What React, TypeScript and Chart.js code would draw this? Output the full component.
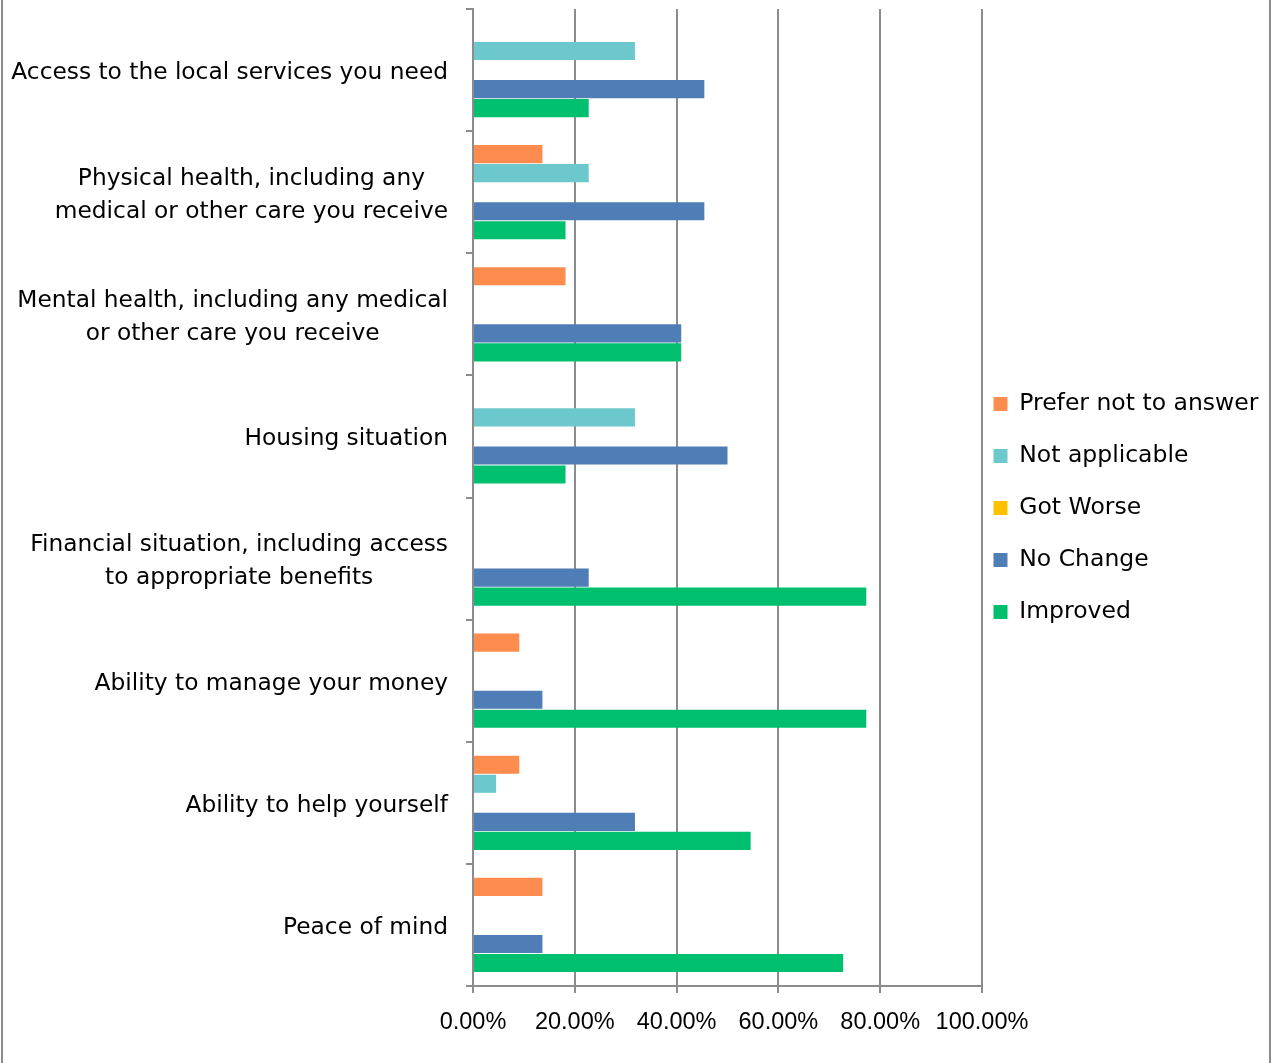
import React, { useEffect, useRef } from "react";
import { Chart, registerables } from "chart.js";

Chart.register(...registerables);

const categories: string[][] = [
  ["Access to the local services you need"],
  ["Physical health, including any", "medical or other care you receive"],
  ["Mental health, including any medical", "or other care you receive"],
  ["Housing situation"],
  ["Financial situation, including access", "to appropriate benefits"],
  ["Ability to manage your money"],
  ["Ability to help yourself"],
  ["Peace of mind"],
];

const seriesNames = ["Prefer not to answer", "Not applicable", "Got Worse", "No Change", "Improved"];
const preferNotToAnswer = [0, 13.64, 18.18, 0, 0, 9.09, 9.09, 13.64];
const notApplicable = [31.82, 22.73, 0, 31.82, 0, 0, 4.55, 0];
const gotWorse = [0, 0, 0, 0, 0, 0, 0, 0];
const noChange = [45.45, 45.45, 40.91, 50, 22.73, 13.64, 31.82, 13.64];
const improved = [22.73, 18.18, 40.91, 18.18, 77.27, 77.27, 54.55, 72.73];
const seriesColors = ["#FF8C4F", "#6CC8CC", "#FFC000", "#4F7DB6", "#00BF6F"];
const xTickValues = [0, 20, 40, 60, 80, 100];

const W = 1276;
const H = 1063;
const LABEL_FONT = '23.3px "DejaVu Sans"';
const GRAY = "#8C8C8C";

export default function App() {
  const ref = useRef<HTMLCanvasElement | null>(null);
  useEffect(() => {
    if (!ref.current) return;
    const values = [preferNotToAnswer, notApplicable, gotWorse, noChange, improved];
    const labelPlugin = {
      id: "catLabels",
      afterLayout(chart: any) {
        const lg = chart.legend;
        if (lg) {
          lg.left -= 17;
          lg.right -= 17;
          lg.top -= 28;
          lg.bottom -= 28;
        }
      },
      afterDraw(chart: any) {
        const ctx = chart.ctx;
        const y = chart.scales.y;
        const rightEdge = chart.chartArea.left - 25;
        ctx.save();
        ctx.font = LABEL_FONT;
        ctx.fillStyle = "#000";
        ctx.textAlign = "center";
        ctx.textBaseline = "middle";
        categories.forEach((lines, i) => {
          const yc = y.getPixelForValue(i) + 3;
          const maxW = Math.max(...lines.map((l) => ctx.measureText(l).width));
          const cx = rightEdge - maxW / 2;
          const lh = 33;
          lines.forEach((l, j) => {
            ctx.fillText(l, cx, yc + (j - (lines.length - 1) / 2) * lh);
          });
        });
        ctx.restore();
      },
    };
    const chart = new Chart(ref.current, {
      type: "bar",
      data: {
        labels: categories,
        datasets: seriesNames.map((name, k) => ({
          label: name,
          data: values[k],
          backgroundColor: seriesColors[k],
          borderWidth: 0,
          categoryPercentage: 0.78,
          barPercentage: 0.95,
        })),
      },
      options: {
        indexAxis: "y",
        animation: false,
        responsive: false,
        layout: { padding: { top: 9, left: 0, right: 0, bottom: 0 } },
        scales: {
          x: {
            min: 0,
            max: 100,
            afterBuildTicks(scale: any) {
              scale.ticks = xTickValues.map((v) => ({ value: v }));
            },
            afterFit(scale: any) {
              scale.height = 77;
            },
            ticks: {
              callback: (v: any) => Number(v).toFixed(2) + "%",
              color: "#000",
              font: { family: '"Liberation Sans"', size: 23.5 },
              padding: 15,
              maxRotation: 0,
            },
            grid: { color: GRAY, lineWidth: 2, tickLength: 7, drawTicks: true },
            border: { display: true, color: GRAY, width: 2 },
          },
          y: {
            afterFit(scale: any) {
              scale.width = 473;
            },
            ticks: { display: false },
            grid: { drawOnChartArea: false, drawTicks: true, tickLength: 7, color: GRAY, lineWidth: 2 },
            border: { display: true, color: GRAY, width: 2 },
          },
        },
        plugins: {
          legend: {
            position: "right",
            align: "center",
            maxWidth: 294,
            labels: {
              color: "#000",
              font: { family: '"DejaVu Sans"', size: 23.5 },
              boxWidth: 14,
              boxHeight: 14,
              padding: 28.5,
            },
          },
          tooltip: { enabled: false },
        },
      },
      plugins: [labelPlugin],
    } as any);
    return () => chart.destroy();
  }, []);
  return (
    <div style={{ position: "absolute", left: 0, top: 0, width: W, height: H, background: "#fff" }}>
      <canvas ref={ref} width={W} height={H} style={{ display: "block", width: W, height: H }} />
      <div style={{ position: "absolute", left: 1, top: 0, width: 2, height: H, background: GRAY }} />
      <div style={{ position: "absolute", left: 1269, top: 0, width: 2, height: H, background: GRAY }} />
    </div>
  );
}
